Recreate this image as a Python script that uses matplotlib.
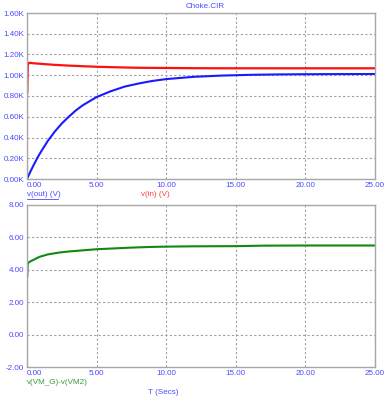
"""
Choke.CIR transient plot: v(out), v(in) and v(VM_G)-v(VM2) against time
"""

import matplotlib
matplotlib.use('Agg')
import matplotlib.pyplot as plt
from matplotlib.ticker import FuncFormatter

# values
t_out = [0, 0.25, 0.5, 0.75, 1.0, 1.5, 2.0, 2.5, 3.0, 3.5, 4.0, 5.0, 6.0, 7.0,
         8.0, 9.0, 10.0, 12.0, 14.0, 16.0, 18.0, 20.0, 22.0, 25.0]
v_out = [0, 73, 140, 205, 262, 368, 458, 535, 600, 660, 710, 790, 845, 890,
         920, 945, 963, 985, 997, 1004, 1008, 1010, 1011, 1012]

t_in = [0.02, 0.06, 0.15, 0.5, 1.0, 2.0, 3.0, 4.0, 5.0, 6.0, 8.0, 10.0, 12.0,
        15.0, 20.0, 25.0]
v_in = [835, 1100, 1120, 1115, 1110, 1100, 1093, 1087, 1082, 1078, 1072,
        1070, 1068, 1067, 1067, 1067]

t_vm = [0.02, 0.05, 0.2, 0.43, 0.9, 1.5, 2.35, 3.0, 4.0, 5.0, 6.0, 7.5, 8.8,
        10.0, 12.0, 15.0, 17.0, 20.0, 25.0]
v_vm = [3.6, 4.4, 4.5, 4.6, 4.8, 4.95, 5.07, 5.13, 5.2, 5.27, 5.31, 5.37,
        5.41, 5.43, 5.45, 5.46, 5.49, 5.5, 5.5]

x_ticks = [0, 5, 10, 15, 20, 25]
top_ticks = [0, 200, 400, 600, 800, 1000, 1200, 1400, 1600]
bot_ticks = [-2, 0, 2, 4, 6, 8]

lbl_blue = '#4a4aff'
fs = 5.8
plt.rcParams['font.family'] = ['Liberation Sans', 'DejaVu Sans']

fig = plt.figure(figsize=(3.9, 4.0), dpi=100)
fig.set_facecolor('white')

ax1 = fig.add_axes([27/390, 1-179/400, 348/390, 166/400])
ax2 = fig.add_axes([27/390, 1-367/400, 348/390, 162/400])


def style_axes(ax):
    ax.set_xlim(0, 25)
    ax.set_xticks(x_ticks)
    ax.xaxis.set_major_formatter(FuncFormatter(lambda v, p: f'{v:.2f}'))
    ax.tick_params(axis='both', length=0, labelsize=fs, labelcolor=lbl_blue, pad=2)
    ax.grid(True, color='#a0a0a0', linestyle=(0, (2, 2)), linewidth=0.8)
    for s in ax.spines.values():
        s.set_color('#a8a8a8')
        s.set_linewidth(1.0)
    # first x label sits just right of the axis start
    ax.get_xticklabels()[0].set_horizontalalignment('left')


# top plot
ax1.plot([0, 0], [0, 835], color='#ff9090', linewidth=1.5)
ax1.plot(t_in, v_in, color='#ff1010', linewidth=1.6)
ax1.plot(t_out, v_out, color='#1a1aff', linewidth=1.5)
ax1.set_ylim(0, 1600)
ax1.set_yticks(top_ticks)
ax1.yaxis.set_major_formatter(FuncFormatter(lambda v, p: f'{v/1000:.2f}K'))
style_axes(ax1)

# bottom plot
ax2.plot([0, 0], [-2, 3.6], color='#80c080', linewidth=1.5)
ax2.plot(t_vm, v_vm, color='#108a10', linewidth=1.5)
ax2.set_ylim(-2, 8)
ax2.set_yticks(bot_ticks)
ax2.yaxis.set_major_formatter(FuncFormatter(lambda v, p: f'{v:.2f}'))
style_axes(ax2)

fig.text(205/390, 1-6/400, 'Choke.CIR', color=lbl_blue, fontsize=fs, ha='center', va='center')
fig.text(27/390, 1-194/400, 'v(out) (V)', color=lbl_blue, fontsize=fs, ha='left', va='center')
fig.text(155/390, 1-194/400, 'v(in) (V)', color='#ff4040', fontsize=fs, ha='center', va='center')
fig.add_artist(plt.Line2D([27/390, 58/390], [1-198.5/400, 1-198.5/400], color=lbl_blue, linewidth=0.6))
fig.text(27/390, 1-382/400, 'v(VM_G)-v(VM2)', color='#3a9a3a', fontsize=fs, ha='left', va='center')
fig.text(163/390, 1-392/400, 'T (Secs)', color=lbl_blue, fontsize=fs, ha='center', va='center')

plt.savefig('out.png', dpi=100)
plt.close()
